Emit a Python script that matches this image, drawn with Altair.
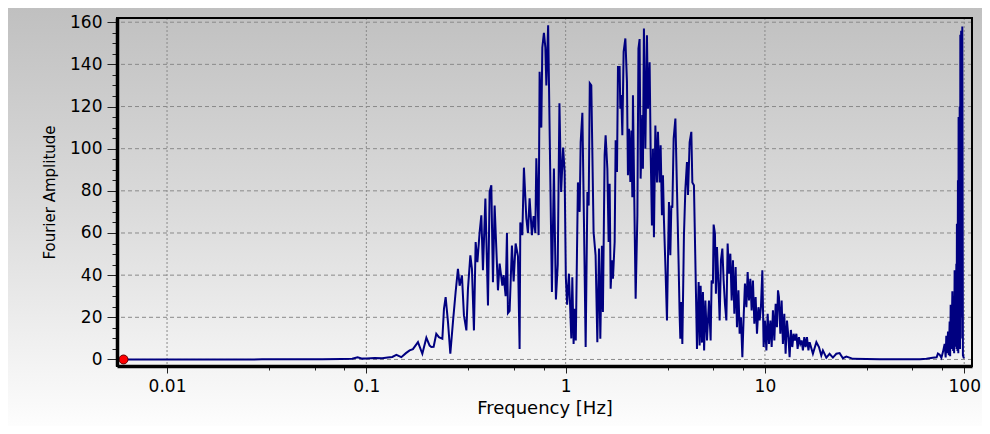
import altair as alt
import pandas as pd

# ---------------- data ----------------
freq = [
    0.00605, 0.0080, 0.0100, 0.0150, 0.0200, 0.0300, 0.0450, 0.0600, 0.0750, 0.0850,
    0.0904, 0.0955, 0.1000, 0.1101, 0.1200, 0.1279, 0.1350, 0.1415, 0.1498, 0.1580,
    0.1649, 0.1713, 0.1816, 0.1910, 0.2001, 0.2078, 0.2119, 0.2176, 0.2244, 0.2313,
    0.2407, 0.2452, 0.2500, 0.2569, 0.2639, 0.2720, 0.2806, 0.2882, 0.2939, 0.3018,
    0.3089, 0.3177, 0.3236, 0.3326, 0.3388, 0.3467, 0.3536, 0.3608, 0.3703, 0.3776,
    0.3847, 0.3957, 0.4077, 0.4156, 0.4238, 0.4318, 0.4403, 0.4576, 0.4665, 0.4813,
    0.4886, 0.5000, 0.5077, 0.5136, 0.5236, 0.5377, 0.5484, 0.5612, 0.5765, 0.5876,
    0.5924, 0.6063, 0.6176, 0.6351, 0.6469, 0.6595, 0.6773, 0.6907, 0.7047, 0.7128,
    0.7318, 0.7404, 0.7551, 0.7639, 0.7782, 0.7912, 0.8003, 0.8171, 0.8535, 0.8735,
    0.8938, 0.9128, 0.9309, 0.9493, 0.9715, 0.9885, 1.0023, 1.0175, 1.0389, 1.0677,
    1.0803, 1.0965, 1.1093, 1.1248, 1.1527, 1.1760, 1.1897, 1.2134, 1.2360, 1.2604,
    1.2861, 1.3049, 1.3220, 1.3451, 1.3609, 1.3814, 1.4137, 1.4425, 1.4703, 1.4930,
    1.5210, 1.5386, 1.5691, 1.5873, 1.6196, 1.6433, 1.6630, 1.6823, 1.7079, 1.7277,
    1.7619, 1.7824, 1.8100, 1.8310, 1.8660, 1.8811, 1.9029, 1.9253, 1.9543, 1.9940,
    2.0310, 2.0545, 2.0782, 2.1120, 2.1365, 2.1616, 2.1765, 2.2018, 2.2454, 2.2911,
    2.3192, 2.3510, 2.3783, 2.4258, 2.4425, 2.4709, 2.5123, 2.5588, 2.5885, 2.6390,
    2.6697, 2.7103, 2.7417, 2.7736, 2.8200, 2.8723, 2.9055, 2.9630, 2.9974, 3.0430,
    3.0783, 3.1141, 3.1663, 3.2249, 3.2623, 3.2999, 3.3529, 3.3919, 3.4318, 3.4833,
    3.5542, 3.6200, 3.6905, 3.7330, 3.7632, 3.8069, 3.8517, 3.9234, 3.9891, 4.0630,
    4.1100, 4.1900, 4.2730, 4.3232, 4.4037, 4.4908, 4.5604, 4.6492, 4.7030, 4.7580,
    4.8300, 4.8860, 4.9530, 5.0260, 5.1190, 5.2380, 5.3400, 5.4020, 5.4840, 5.5290,
    5.6130, 5.6770, 5.7460, 5.8440, 5.9260, 6.0150, 6.1140, 6.2060, 6.3010, 6.4050,
    6.5000, 6.6000, 6.7060, 6.8080, 6.9110, 7.0230, 7.1300, 7.2400, 7.3640, 7.4670,
    7.5800, 7.7040, 7.8200, 7.9390, 8.0710, 8.1910, 8.3160, 8.4490, 8.5770, 8.7070,
    8.8480, 8.9830, 9.1220, 9.2780, 9.4070, 9.5490, 9.7060, 9.8520, 10.000, 10.170,
    10.320, 10.480, 10.650, 10.810, 10.970, 11.150, 11.320, 11.490, 11.630, 11.760,
    11.950, 12.130, 12.310, 12.510, 12.700, 12.900, 13.120, 13.300, 13.500, 13.720,
    13.930, 14.140, 14.380, 14.590, 14.810, 15.050, 15.280, 15.510, 15.760, 16.000,
    16.250, 16.530, 16.760, 17.410, 18.120, 18.670, 19.180, 19.540, 20.330, 21.110,
    21.930, 22.820, 23.700, 24.620, 25.620, 27.680, 32.270, 37.640, 47.430, 60.000,
    64.600, 69.400, 72.700, 73.800, 75.280, 76.800, 78.200, 79.760, 80.700, 81.300,
    82.100, 82.900, 83.700, 84.500, 85.000, 85.500, 86.300, 87.200, 88.000, 88.400,
    89.000, 89.500, 90.400, 91.300, 91.600, 91.900, 92.500, 93.000, 93.400, 93.700,
    94.300, 94.900, 95.300, 95.600, 96.000, 96.500, 97.100, 97.800, 98.500, 99.700,
]
amp = [
    0.0, 0.0, 0.0, 0.0, 0.0, 0.05, 0.1, 0.1, 0.2, 0.3,
    1.0, 0.4, 0.5, 0.7, 0.6, 0.9, 1.2, 2.2, 1.1, 3.0,
    4.3, 4.9, 8.2, 2.7, 10.3, 6.6, 5.9, 6.0, 12.2, 10.6,
    9.8, 24.0, 29.6, 17.7, 2.7, 17.7, 32.0, 43.0, 35.0, 39.9,
    20.9, 13.8, 33.6, 49.4, 43.0, 13.8, 55.7, 46.2, 60.4, 68.4,
    42.3, 76.3, 25.6, 79.5, 82.6, 36.7, 73.0, 32.8, 45.5, 35.0,
    40.0, 30.0, 60.0, 22.0, 23.0, 54.0, 37.0, 55.0, 49.0, 5.0,
    65.0, 59.0, 91.0, 67.0, 60.0, 76.5, 59.0, 68.0, 60.0, 95.5,
    59.0, 136.5, 110.0, 148.0, 155.0, 148.0, 130.0, 158.6, 32.0, 90.6,
    28.5, 45.0, 121.5, 79.5, 100.5, 89.0, 39.0, 26.0, 40.7, 10.0,
    39.0, 7.4, 24.0, 9.0, 84.0, 70.0, 103.0, 117.0, 65.0, 5.9,
    79.5, 73.0, 131.0, 130.0, 100.0, 60.4, 49.4, 8.2, 52.6, 9.8,
    54.0, 22.5, 96.9, 106.4, 90.5, 55.7, 83.4, 33.6, 47.0, 38.3,
    55.7, 104.0, 89.0, 138.8, 138.8, 119.0, 125.4, 106.4, 146.0, 152.3,
    131.7, 87.4, 109.5, 84.2, 108.6, 77.0, 125.4, 88.0, 28.8, 68.4,
    147.5, 152.0, 85.8, 116.0, 90.5, 157.0, 100.0, 153.8, 119.0, 141.0,
    100.0, 63.6, 100.0, 58.0, 111.0, 84.0, 108.0, 84.0, 101.6, 68.4,
    87.4, 66.0, 44.6, 18.5, 47.8, 74.7, 49.4, 73.0, 72.0, 104.8,
    114.3, 81.0, 44.6, 20.9, 9.8, 27.2, 7.4, 58.9, 81.0, 93.7,
    78.0, 103.0, 108.0, 84.0, 82.6, 40.0, 5.0, 36.7, 6.6, 35.0,
    8.0, 32.0, 4.3, 28.0, 9.0, 28.0, 9.0, 37.5, 36.0, 64.0,
    59.7, 31.2, 53.3, 36.0, 18.5, 47.0, 52.6, 37.5, 26.4, 18.5,
    55.0, 40.7, 50.2, 28.0, 47.0, 21.7, 43.8, 15.3, 32.8, 12.2,
    20.0, 1.1, 20.0, 36.0, 24.8, 41.5, 28.0, 38.3, 23.3, 37.5,
    17.0, 29.6, 12.2, 24.8, 18.5, 24.8, 42.3, 5.9, 18.5, 4.3,
    21.7, 7.4, 18.5, 5.9, 23.3, 9.0, 26.4, 15.3, 32.8, 29.6,
    12.2, 28.0, 7.4, 21.7, 2.7, 18.5, 10.6, 1.1, 14.0, 5.9,
    12.2, 9.0, 12.2, 5.0, 10.6, 7.4, 9.0, 4.3, 10.6, 5.9,
    10.6, 4.3, 8.2, 2.7, 8.2, 5.9, 1.9, 4.3, 0.9, 2.7,
    0.9, 2.7, 3.0, 0.6, 1.4, 0.3, 0.2, 0.1, 0.1, 0.1,
    0.3, 0.8, 1.0, 2.8, 2.3, 0.8, 3.5, 7.4, 1.0, 11.2,
    3.0, 13.3, 2.0, 18.0, 1.5, 26.0, 5.0, 32.4, 4.0, 30.0,
    3.0, 42.3, 6.0, 45.4, 5.0, 64.4, 4.0, 85.0, 3.0, 115.0,
    6.0, 120.0, 5.0, 154.0, 10.0, 156.0, 20.0, 158.0, 2.0, 0.5,
]

marker_freq = [0.00605]
marker_amp = [0.0]

x_decades = [0.01, 0.1, 1, 10, 100]
x_tick_values = [0.01, 0.0325, 0.055, 0.0775, 0.1, 0.325, 0.55, 0.775,
                 1, 3.25, 5.5, 7.75, 10, 32.5, 55, 77.5, 100]
y_grid_values = [0, 20, 40, 60, 80, 100, 120, 140, 160]
y_tick_values = [0, 5, 10, 15, 20, 25, 30, 35, 40, 45, 50, 55, 60, 65, 70, 75, 80,
                 85, 90, 95, 100, 105, 110, 115, 120, 125, 130, 135, 140, 145, 150,
                 155, 160]

# ---------------- chart ----------------
W, H = 855, 348
FONT = "DejaVu Sans"

df = pd.DataFrame({"freq": freq, "amp": amp})
marker_df = pd.DataFrame({"freq": marker_freq, "amp": marker_amp})
xgrid_df = pd.DataFrame({"freq": x_decades})
ygrid_df = pd.DataFrame({"amp": y_grid_values})

xscale = alt.Scale(type="log", domain=[0.00561, 109.4], nice=False)
yscale = alt.Scale(domain=[-3.1, 162], nice=False, zero=False)

xaxis = alt.Axis(
    values=x_tick_values,
    grid=False,
    labelExpr="indexof([0.01, 0.1, 1, 10, 100], datum.value) >= 0 ? datum.value : ''",
    labelOverlap=False,
    labelFont=FONT, labelFontSize=17, labelColor="black",
    labelPadding=5,
    tickSize={"condition": {"test": "indexof([0.01, 0.1, 1, 10, 100], datum.value) >= 0",
                            "value": 7}, "value": 4},
    tickColor="#222", tickWidth=1,
    domainColor="black", domainWidth=3.5,
    title="Frequency [Hz]", titleFont=FONT, titleFontSize=18,
    titleFontWeight="normal", titleColor="black", titlePadding=5,
    zindex=1,
)
yaxis = alt.Axis(
    values=y_tick_values,
    grid=False,
    labelExpr="datum.value % 20 === 0 ? datum.label : ''",
    labelOverlap=False,
    labelFont=FONT, labelFontSize=17, labelColor="black",
    labelPadding=5,
    tickSize={"condition": {"test": "datum.value % 20 === 0", "value": 10}, "value": 5},
    tickColor="#222", tickWidth=1,
    domainColor="black", domainWidth=3.5,
    title="Fourier Amplitude", titleFont=FONT, titleFontSize=15,
    titleFontWeight="normal", titleColor="black", titlePadding=12,
    zindex=1,
)

xenc = alt.X("freq:Q", scale=xscale, axis=xaxis)
yenc = alt.Y("amp:Q", scale=yscale, axis=yaxis)

bg = alt.Chart(pd.DataFrame({"k": [0]})).mark_rect(
    clip=False,
    fill=alt.LinearGradient(
        gradient="linear",
        stops=[alt.GradientStop(color="#c0c0c0", offset=0),
               alt.GradientStop(color="#dcdcdc", offset=0.5),
               alt.GradientStop(color="#fdfdfd", offset=1)],
        x1=0, x2=0, y1=0, y2=1,
    ),
).encode(x=alt.value(-109), x2=alt.value(W + 10), y=alt.value(-10), y2=alt.value(H + 60))

vgrid = alt.Chart(xgrid_df).mark_rule(
    color="#8a8a8a", strokeDash=[2, 2], strokeWidth=1
).encode(x=xenc)

hgrid = alt.Chart(ygrid_df).mark_rule(
    color="#8a8a8a", strokeDash=[4, 3], strokeWidth=1
).encode(y=yenc)

line = alt.Chart(df).mark_line(
    color="#000080", strokeWidth=2, clip=True, interpolate="linear"
).encode(x=xenc, y=yenc)

dot = alt.Chart(marker_df).mark_point(
    filled=True, fill="#ff0000", stroke="#600000", strokeWidth=1,
    size=80, opacity=1, shape="circle", clip=False
).encode(x=xenc, y=yenc)

border = alt.Chart(pd.DataFrame({"k": [0]})).mark_rect(
    fill=None, fillOpacity=0, stroke="black", strokeWidth=2, clip=False
).encode(x=alt.value(0), x2=alt.value(W), y=alt.value(0), y2=alt.value(H))

chart = alt.layer(bg, vgrid, hgrid, line, dot, border).properties(
    width=W, height=H,
    autosize=alt.AutoSizeParams(type="none"),
    padding={"left": 109, "top": 10, "right": 10, "bottom": 60},
    background="white",
).configure_view(stroke=None)

chart.save("out.html", embed_options={"renderer": "svg", "actions": False})
